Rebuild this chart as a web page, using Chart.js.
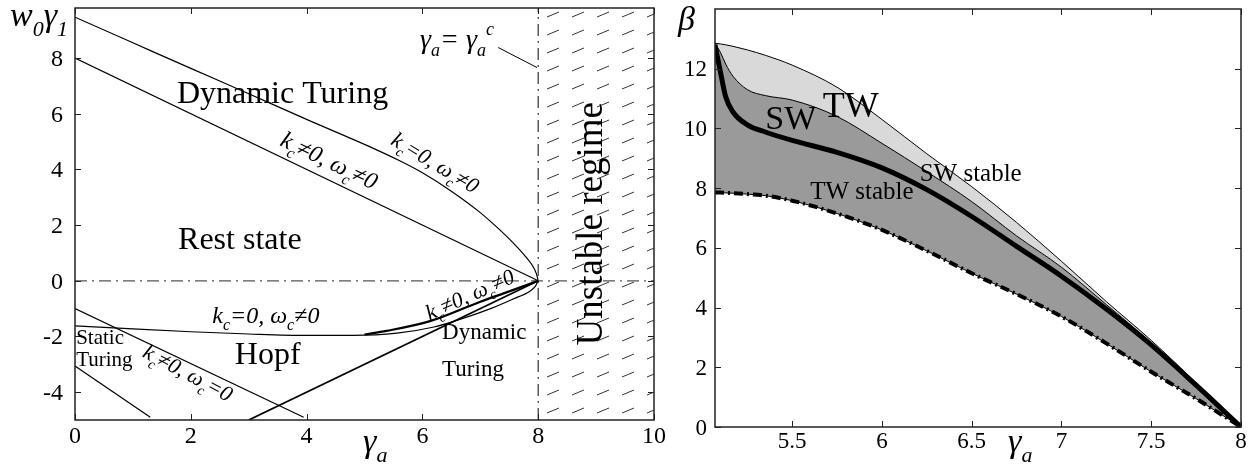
<!DOCTYPE html>
<html>
<head>
<meta charset="utf-8">
<script src="https://cdn.jsdelivr.net/npm/chart.js@4.4.1/dist/chart.umd.min.js"></script>
<style>
body { margin: 0; background: #fff; }
#wrap { position: relative; width: 1255px; height: 472px; overflow: hidden; }
canvas { position: absolute; top: 0; }
#left { left: 0; }
#right { left: 660px; }
</style>
</head>
<body>
<div id="wrap">
<canvas id="left" width="680" height="472"></canvas>
<canvas id="right" width="595" height="472"></canvas>
</div>
<script>
// left panel: stability diagram in (gamma_a, w0*gamma_1)
let upperX = [0, 1, 2, 3, 4, 5, 5.6, 6, 6.5, 7, 7.3, 7.55, 7.75, 7.9, 7.97, 8];
let upperY = [9.47, 8.55, 7.63, 6.72, 5.8, 4.9, 4.32, 3.88, 3.22, 2.45, 1.9, 1.4, 0.95, 0.55, 0.25, 0];
let lowerX = [0, 1, 2, 3, 4, 4.8, 5.56, 6.2, 6.7, 7.2, 7.57, 7.85, 7.95, 8];
let lowerY = [-1.62, -1.73, -1.83, -1.91, -1.96, -1.96, -1.88, -1.66, -1.35, -0.98, -0.65, -0.38, -0.2, 0];
let turingX = [0, 8];
let turingY = [8, 0];
let staticX = [0, 1.3];
let staticY = [-3.06, -4.9];
let hopfEdgeX = [0, 3.95];
let hopfEdgeY = [-1.0, -4.9];
let dynLineX = [3.0, 8];
let dynLineY = [-5.0, 0];
let dynCurveX = [5.0, 5.38, 6.13, 7.0, 7.5, 8];
let dynCurveY = [-1.93, -1.8, -1.45, -0.75, -0.38, 0];
let zeroX = [0, 10];
let zeroY = [0, 0];
let criticalX = [8, 8];
let criticalY = [-5, 9.8];
let unstableX = [8, 10];
let unstableY = [9.8, 9.8];
let leaderX = [7.31, 7.98];
let leaderY = [8.38, 7.66];
let xTicksL = [0, 2, 4, 6, 8, 10];
let yTicksL = [-4, -2, 0, 2, 4, 6, 8];

// right panel: beta vs gamma_a
let xR = [5.07, 5.1, 5.13, 5.17, 5.25, 5.35, 5.5, 5.75, 6.0, 6.25, 6.5, 6.75, 7.0, 7.25, 7.5, 7.75, 8.0];
let topR = [12.85, 12.83, 12.8, 12.75, 12.63, 12.45, 12.12, 11.38, 10.3, 9.15, 8.05, 6.85, 5.55, 4.2, 2.9, 1.48, 0];
let midR = [12.85, 12.55, 12.15, 11.75, 11.3, 11.1, 10.95, 10.4, 9.5, 8.55, 7.55, 6.4, 5.35, 4.1, 2.82, 1.44, 0];
let swTwR = [12.8, 11.9, 11.05, 10.55, 10.12, 9.88, 9.6, 9.2, 8.68, 7.95, 7.05, 6.05, 5.05, 3.95, 2.75, 1.4, 0];
let lowR = [7.85, 7.85, 7.84, 7.83, 7.8, 7.75, 7.58, 7.15, 6.6, 5.9, 5.15, 4.45, 3.7, 2.8, 1.85, 0.95, 0];
let xTicksR = [5.5, 6, 6.5, 7, 7.5, 8];
let yTicksR = [0, 2, 4, 6, 8, 10, 12];

const serif = '"Liberation Serif", "Times New Roman", serif';
Chart.defaults.font.family = serif;
Chart.defaults.color = '#000';

let leftNotes = [
	{x: 1.76, y: 6.4, text: 'Dynamic Turing', size: 32},
	{x: 1.78, y: 1.15, text: 'Rest state', size: 32},
	{x: 2.76, y: -2.99, text: 'Hopf', size: 32},
	{x: 0.02, y: -2.27, text: 'Static', size: 21},
	{x: 0.02, y: -3.06, text: 'Turing', size: 21},
	{x: 6.34, y: -2.09, text: 'Dynamic', size: 23},
	{x: 6.34, y: -3.42, text: 'Turing', size: 23},
	{x: 8.89, y: 2.05, text: 'Unstable regime', size: 37, angle: -90, center: true},
	{x: 4.39, y: 4.32, text: 'k_c≠0, ω_c≠0', size: 24, italic: true, angle: 25.6, center: true},
	{x: 6.22, y: 4.24, text: 'k_c=0, ω_c≠0', size: 22, italic: true, angle: 31, center: true},
	{x: 2.37, y: -1.51, text: 'k_c=0, ω_c≠0', size: 24, italic: true},
	{x: 1.95, y: -3.31, text: 'k_c≠0, ω_c=0', size: 22, italic: true, angle: 28, center: true},
	{x: 6.82, y: -0.5, text: 'k_c≠0, ω_c≠0', size: 22, italic: true, angle: -24, center: true},
	{x: 5.96, y: 8.38, text: 'γ_a= γ_a^c', size: 28, italic: true},
	{px: 10, py: 26, text: 'w_0γ_1', size: 34, italic: true},
	{px: 363, py: 452, text: 'γ_a', size: 34, italic: true}
];

let rightNotes = [
	{x: 5.35, y: 9.98, text: 'SW', size: 34},
	{x: 5.67, y: 10.38, text: 'TW', size: 36},
	{x: 5.6, y: 7.62, text: 'TW stable', size: 25},
	{x: 6.21, y: 8.23, text: 'SW stable', size: 25},
	{px: 18, py: 30, text: 'β', size: 34, italic: true},
	{px: 348, py: 452, text: 'γ_a', size: 34, italic: true}
];

function pts(xs, ys) {
	return xs.map((x, i) => ({x: x, y: ys[i]}));
}

function line(xs, ys, width, extra) {
	return Object.assign({
		data: pts(xs, ys), borderColor: '#000', borderWidth: width,
		pointRadius: 0, fill: false, tension: 0
	}, extra || {});
}

function smooth(xs, ys, width, extra) {
	return line(xs, ys, width, Object.assign({cubicInterpolationMode: 'monotone'}, extra || {}));
}

function splitRich(text) {
	let parts = [];
	for (let i = 0; i < text.length; i++) {
		let ch = text[i];
		if ((ch === '_' || ch === '^') && i + 1 < text.length) {
			parts.push({t: text[i + 1], mode: ch});
			i++;
		} else {
			let last = parts[parts.length - 1];
			if (last && last.mode === '') last.t += ch;
			else parts.push({t: ch, mode: ''});
		}
	}
	return parts;
}

function drawRich(ctx, note, px, py) {
	let parts = splitRich(note.text);
	let style = note.italic ? 'italic ' : '';
	let big = style + note.size + 'px ' + serif;
	let small = style + Math.round(note.size * 0.65) + 'px ' + serif;
	let w = 0;
	parts.forEach(p => {
		ctx.font = p.mode ? small : big;
		p.w = ctx.measureText(p.t).width;
		w += p.w;
	});
	ctx.save();
	ctx.translate(px, py);
	ctx.rotate((note.angle || 0) * Math.PI / 180);
	let x = note.center ? -w / 2 : 0;
	let y = note.center ? note.size * 0.32 : 0;
	ctx.fillStyle = '#000';
	ctx.textBaseline = 'alphabetic';
	ctx.textAlign = 'left';
	parts.forEach(p => {
		ctx.font = p.mode ? small : big;
		let dy = p.mode === '_' ? note.size * 0.3 : (p.mode === '^' ? -note.size * 0.45 : 0);
		ctx.fillText(p.t, x, y + dy);
		x += p.w;
	});
	ctx.restore();
}

// box with inward ticks on all four sides, matlab style, plus tick labels
const framePlugin = {
	id: 'frame',
	afterDatasetsDraw(chart, args, opts) {
		const ctx = chart.ctx, a = chart.chartArea;
		const sx = chart.scales.x, sy = chart.scales.y;
		ctx.save();
		ctx.strokeStyle = '#222';
		ctx.lineWidth = 1;
		ctx.beginPath();
		sx.ticks.forEach(t => {
			let p = Math.round(sx.getPixelForValue(t.value)) + 0.5;
			ctx.moveTo(p, a.bottom); ctx.lineTo(p, a.bottom - 6);
			ctx.moveTo(p, a.top); ctx.lineTo(p, a.top + 6);
		});
		sy.ticks.forEach(t => {
			let p = Math.round(sy.getPixelForValue(t.value)) + 0.5;
			ctx.moveTo(a.left, p); ctx.lineTo(a.left + 6, p);
			ctx.moveTo(a.right, p); ctx.lineTo(a.right - 6, p);
		});
		ctx.stroke();
		ctx.lineWidth = 1.5;
		ctx.strokeRect(a.left, a.top, a.right - a.left, a.bottom - a.top);

		ctx.fillStyle = '#000';
		ctx.font = opts.size + 'px ' + serif;
		ctx.textBaseline = 'alphabetic';
		ctx.textAlign = 'center';
		sx.ticks.forEach(t => {
			ctx.fillText(String(t.value), sx.getPixelForValue(t.value), a.bottom + opts.xGap);
		});
		ctx.textAlign = 'right';
		sy.ticks.forEach(t => {
			ctx.fillText(String(t.value), a.left - opts.yGap, sy.getPixelForValue(t.value) + opts.size * 0.33);
		});
		ctx.restore();
	}
};

const notesPlugin = {
	id: 'notes',
	afterDraw(chart, args, opts) {
		const sx = chart.scales.x, sy = chart.scales.y;
		(opts.items || []).forEach(n => {
			let px = n.px !== undefined ? n.px : sx.getPixelForValue(n.x);
			let py = n.py !== undefined ? n.py : sy.getPixelForValue(n.y);
			drawRich(chart.ctx, n, px, py);
		});
	}
};

function axis(min, max, ticks, size, horizontal) {
	return {
		type: 'linear', min: min, max: max,
		grid: {display: false, drawTicks: false},
		border: {display: false},
		ticks: {display: false},
		afterBuildTicks: s => { s.ticks = ticks.map(v => ({value: v})); },
		afterFit: s => {
			if (horizontal) s.height = size; else s.width = size;
			s.paddingLeft = 0; s.paddingRight = 0; s.paddingTop = 0; s.paddingBottom = 0;
		}
	};
}

function hatchPattern(ctx) {
	let c = document.createElement('canvas');
	c.width = 25;
	c.height = 18;
	let g = c.getContext('2d');
	g.strokeStyle = '#333';
	g.lineWidth = 1;
	g.beginPath();
	g.moveTo(2, 12);
	g.lineTo(14, 7);
	g.stroke();
	let pat = ctx.createPattern(c, 'repeat');
	pat.setTransform(new DOMMatrix([1, 0, 0, 1, 545, 5]));
	return pat;
}

function baseOptions(padding, notes, gaps, xAxis, yAxis) {
	return {
		responsive: false, animation: false, devicePixelRatio: 1,
		layout: {padding: padding, autoPadding: false},
		plugins: {
			legend: {display: false}, tooltip: {enabled: false},
			filler: {drawTime: 'beforeDatasetsDraw'},
			notes: {items: notes},
			frame: gaps
		},
		scales: {x: xAxis, y: yAxis}
	};
}

let leftCanvas = document.getElementById('left');
let dashDot = [12, 5, 2, 5];

new Chart(leftCanvas, {
	type: 'line',
	data: {
		datasets: [
			smooth(dynCurveX, dynCurveY, 2.2),
			line(dynLineX, dynLineY, 1.8),
			smooth(upperX, upperY, 1.2),
			smooth(lowerX, lowerY, 1.2),
			line(turingX, turingY, 1.2),
			line(hopfEdgeX, hopfEdgeY, 1.2),
			line(staticX, staticY, 1.2),
			line(leaderX, leaderY, 1),
			line(zeroX, zeroY, 1.2, {borderColor: '#555', borderDash: dashDot}),
			line(criticalX, criticalY, 1.2, {borderColor: '#333', borderDash: dashDot}),
			line(unstableX, unstableY, 0, {fill: 'start', backgroundColor: hatchPattern(leftCanvas.getContext('2d'))})
		]
	},
	options: baseOptions({left: 0, right: 26, top: 8, bottom: 0}, leftNotes, {xGap: 23, yGap: 12, size: 24},
		axis(0, 10, xTicksL, 52, true), axis(-5, 9.8, yTicksL, 75, false)),
	plugins: [framePlugin, notesPlugin]
});

new Chart(document.getElementById('right'), {
	type: 'line',
	data: {
		datasets: [
			smooth(xR, swTwR, 5),
			smooth(xR, lowR, 4, {borderDash: [9, 4, 2, 4]}),
			smooth(xR, lowR, 1),
			smooth(xR, midR, 1, {fill: 2, backgroundColor: '#9a9a9a'}),
			smooth(xR, topR, 1, {fill: 3, backgroundColor: '#d9d9d9'})
		]
	},
	options: baseOptions({left: 0, right: 14, top: 9, bottom: 0}, rightNotes, {xGap: 21, yGap: 8, size: 23},
		axis(5.07, 8, xTicksR, 45, true), axis(0, 14, yTicksR, 55, false)),
	plugins: [framePlugin, notesPlugin]
});
</script>
</body>
</html>
